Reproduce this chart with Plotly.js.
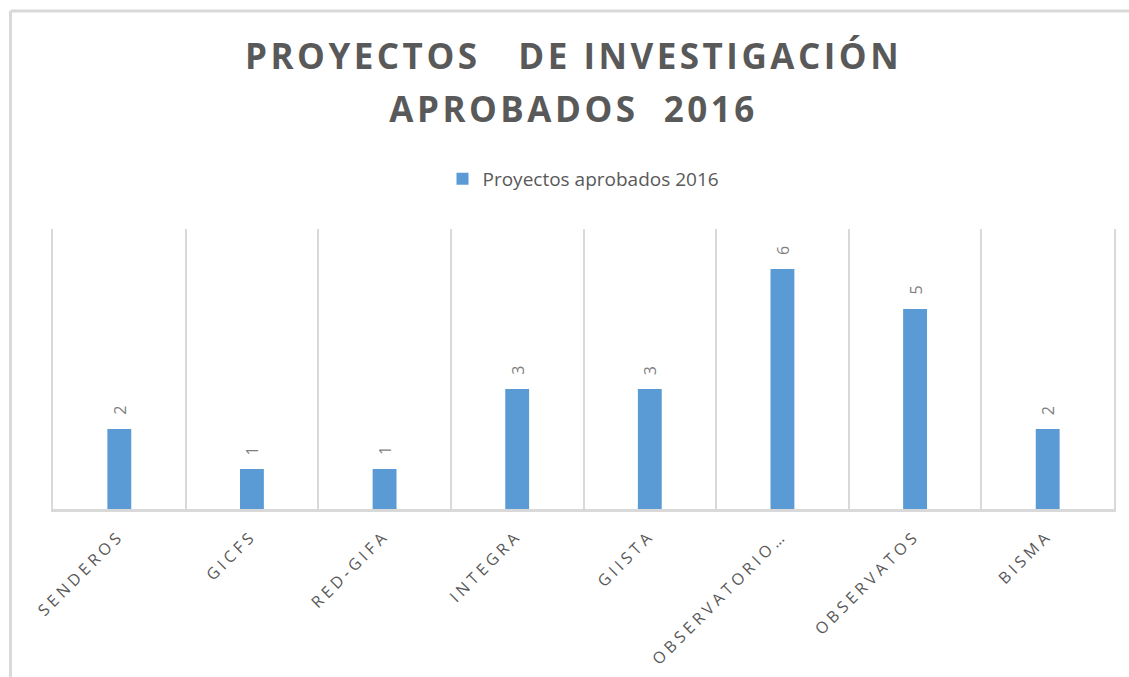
<!DOCTYPE html>
<html>
<head>
<meta charset="utf-8">
<script src="https://cdn.plot.ly/plotly-3.0.1.min.js"></script>
<style>
  html, body { margin: 0; padding: 0; background: #fff; }
  #chart { width: 1129px; height: 677px; }
  #chart .gtitle { letter-spacing: 3.5px; }
  #chart .xtick text { letter-spacing: 4px; }
</style>
</head>
<body>
<div id="chart"></div>
<script>
const categories = ["SENDEROS", "GICFS", "RED-GIFA", "INTEGRA", "GIISTA", "OBSERVATORIO…", "OBSERVATOS", "BISMA"];
const values = [2, 1, 1, 3, 3, 6, 5, 2];
const seriesName = "Proyectos aprobados 2016";
const titleText = "PROYECTOS\u00a0\u00a0\u00a0DE INVESTIGACIÓN<br>APROBADOS\u00a0\u00a02016";

const grid = "#d9d9d9";
const textGray = "#595959";

const trace = {
  type: "bar",
  x: categories,
  y: values,
  name: seriesName,
  marker: { color: "#5b9bd5" },
  showlegend: true,
  hoverinfo: "x+y"
};

const annotations = categories.map((c, i) => ({
  x: c, y: values[i], xref: "x", yref: "y",
  text: String(values[i]),
  showarrow: false, textangle: -90,
  xanchor: "center", yanchor: "bottom", yshift: 12,
  font: { family: "Open Sans, sans-serif", size: 16, color: "#7f7f7f" }
}));

const layout = {
  width: 1129, height: 677,
  paper_bgcolor: "#ffffff", plot_bgcolor: "#ffffff",
  margin: { l: 53, r: 15, t: 229, b: 168 },
  title: {
    text: titleText,
    xref: "container", yref: "container",
    x: 0.508, y: 0.898, xanchor: "center", yanchor: "top",
    font: { family: "Open Sans, sans-serif", size: 35, color: textGray, weight: "bold" }
  },
  showlegend: true,
  legend: {
    orientation: "h", xref: "paper", yref: "paper",
    x: 0.5, y: 1.1786, xanchor: "center", yanchor: "middle",
    font: { family: "Open Sans, sans-serif", size: 19, color: textGray },
    bgcolor: "rgba(0,0,0,0)"
  },
  bargap: 0.82,
  xaxis: {
    type: "category",
    tickangle: -45,
    tickson: "boundaries",
    showgrid: true, gridcolor: grid, gridwidth: 2,
    ticks: "", ticklabelstandoff: 8,
    showline: true, linecolor: grid, linewidth: 3,
    tickfont: { family: "Open Sans, sans-serif", size: 16, color: textGray },
    fixedrange: true
  },
  yaxis: {
    range: [0, 7],
    showgrid: false, zeroline: false,
    showticklabels: false, ticks: "",
    showline: true, linecolor: grid, linewidth: 2, mirror: true,
    fixedrange: true
  },
  annotations: annotations,
  shapes: [
    { type: "line", xref: "paper", yref: "paper", x0: -0.0401, x1: 1.02, y0: 1.7786, y1: 1.7786,
      line: { color: grid, width: 3 } },
    { type: "line", xref: "paper", yref: "paper", x0: -0.0401, x1: -0.0401, y0: 1.7786, y1: -0.62,
      line: { color: grid, width: 3 } }
  ]
};

Plotly.newPlot("chart", [trace], layout, { displayModeBar: false, staticPlot: true }).then(() => {
  const lines = document.querySelectorAll("#chart .gtitle tspan.line");
  if (lines.length > 1) {
    for (let i = 1; i < lines.length; i++) lines[i].setAttribute("dy", "1.52em");
  }
});
</script>
</body>
</html>
